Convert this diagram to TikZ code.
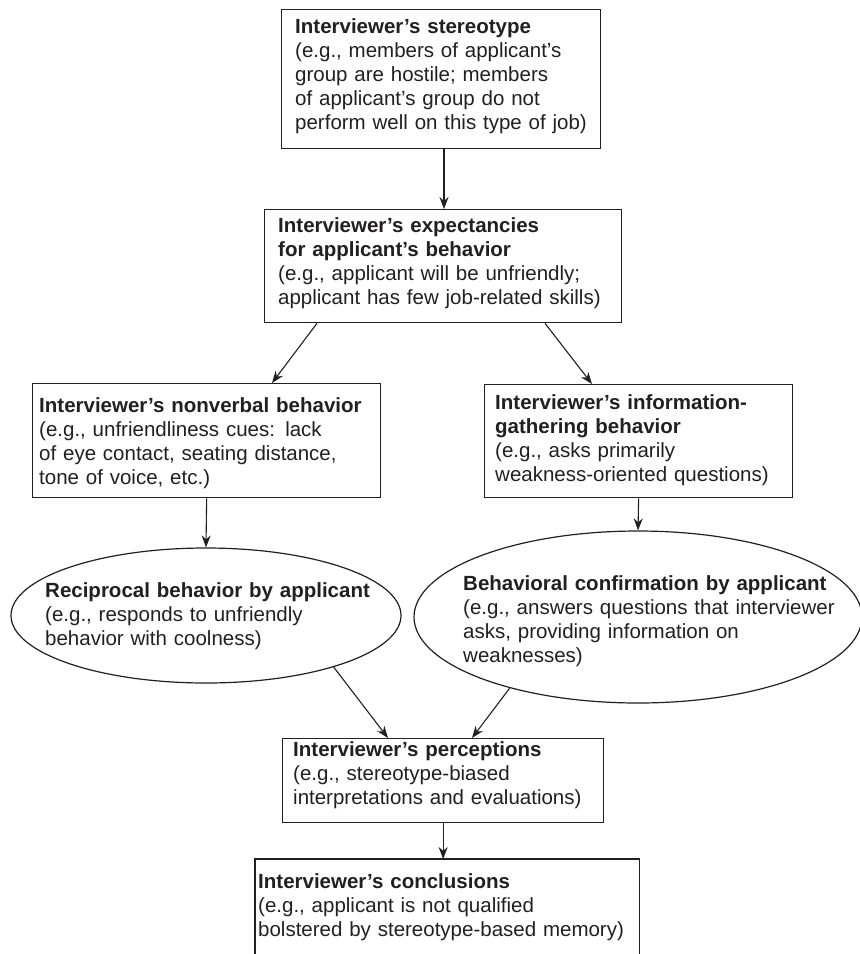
\documentclass[tikz,border=0pt]{standalone}
\usepackage{fontspec}
\setmainfont{Liberation Sans}
\usetikzlibrary{arrows.meta,calc,shapes.geometric}
\definecolor{ink}{HTML}{231F20}
\begin{document}
\begin{tikzpicture}[x=1pt,y=-1pt,
  box/.style={draw=ink, line width=1.3pt, anchor=north west, inner sep=0pt},
  oval/.style={draw=ink, ellipse, line width=1.2pt, inner sep=0pt},
  txt/.style={anchor=base west, inner sep=0pt, text=ink, text width=460pt, align=left,
              font=\fontsize{20.5}{24}\selectfont},
  arr/.style={draw=ink, line width=1.1pt, -{Stealth[length=12pt,width=9pt]}}]
\useasboundingbox (0,0) rectangle (860,954);

% boxes and ovals
\node[box, minimum width=319pt, minimum height=139pt] (ster) at (281,9) {};
\node[box, minimum width=357pt, minimum height=113pt] (expc) at (264,209) {};
\node[box, minimum width=348pt, minimum height=114pt] (nonv) at (32,383) {};
\node[box, minimum width=308pt, minimum height=113pt] (info) at (484,384) {};
\node[oval, minimum width=390pt, minimum height=135pt] (recip) at (206,615.5) {};
\node[oval, minimum width=448pt, minimum height=172pt] (confirm) at (638,617) {};
\node[box, minimum width=321pt, minimum height=84pt] (perc) at (282,738) {};
\node[box, draw=none, minimum width=383pt, minimum height=95pt] (concl) at (255,859) {};
\draw[draw=ink, line width=1.3pt] ($(concl.north west)+(0,96)$) -- (concl.north west)
  -- (concl.north east) -- ($(concl.north east)+(0,96)$);

% texts
\node[txt] (tster) at (295,33) {\textbf{Interviewer’s stereotype}\\(e.g., members of applicant’s\\group are hostile; members\\of applicant’s group do not\\perform well on this type of job)};
\node[txt] (texpc) at (278,232) {\textbf{Interviewer’s expectancies}\\\textbf{for applicant’s behavior}\\(e.g., applicant will be unfriendly;\\applicant has few job-related skills)};
\node[txt] (tnonv) at (39,412) {\textbf{Interviewer’s nonverbal behavior}\\(e.g., unfriendliness cues: lack\\of eye contact, seating distance,\\tone of voice, etc.)};
\node[txt] (tinfo) at (495,409) {\textbf{Interviewer’s information-}\\\textbf{gathering behavior}\\(e.g., asks primarily\\weakness-oriented questions)};
\node[txt] (trecip) at (45,597) {\textbf{Reciprocal behavior by applicant}\\(e.g., responds to unfriendly\\behavior with coolness)};
\node[txt] (tconfirm) at (463,590) {\textbf{Behavioral confirmation by applicant}\\(e.g., answers questions that interviewer\\asks, providing information on\\weaknesses)};
\node[txt] (tperc) at (293,756) {\textbf{Interviewer’s perceptions}\\(e.g., stereotype-biased\\interpretations and evaluations)};
\node[txt] (tconcl) at (258,888) {\textbf{Interviewer’s conclusions}\\(e.g., applicant is not qualified\\bolstered by stereotype-based memory)};

% connectors
\draw[arr] ($(ster.south west)+(163,0)$) -- ($(expc.north west)+(180,0)$);
\draw[arr] ($(expc.south west)+(53,0)$) -- ($(nonv.north west)+(240,0)$);
\draw[arr] ($(expc.south west)+(281,0)$) -- ($(info.north west)+(108,0)$);
\draw[arr] (nonv.south) -- (recip.north);
\draw[arr] (info.south) -- (confirm.north);
\draw[arr] (recip.-22) -- ($(perc.north west)+(106,0)$);
\draw[arr] (confirm.209) -- ($(perc.north west)+(190,0)$);
\draw[arr] (perc.south) -- (perc.south |- concl.north);
\end{tikzpicture}
\end{document}
